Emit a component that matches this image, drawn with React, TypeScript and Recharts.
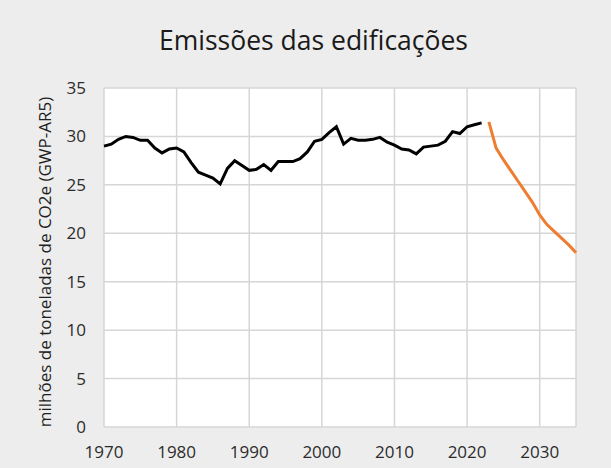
import { LineChart, Line, XAxis, YAxis, CartesianGrid } from "recharts";

const histStart = 1970;
const projStart = 2023;

// milhões de t CO2e
const historical = [
    29.0, 29.2, 29.7, 30.0, 29.9, 29.6, 29.6, 28.8, 28.3, 28.7,
    28.8, 28.4, 27.3, 26.3, 26.0, 25.7, 25.1, 26.7, 27.5, 27.0,
    26.5, 26.6, 27.1, 26.5, 27.4, 27.4, 27.4, 27.7, 28.4, 29.5,
    29.7, 30.4, 31.0, 29.2, 29.8, 29.6, 29.6, 29.7, 29.9, 29.4,
    29.1, 28.7, 28.6, 28.2, 28.9, 29.0, 29.1, 29.5, 30.5, 30.3,
    31.0, 31.2, 31.4
];
const projection = [31.5, 28.8, 27.6, 26.5, 25.4, 24.3, 23.2, 21.9, 20.9, 20.2, 19.5, 18.8, 18.0];

const xTicks = [1970, 1980, 1990, 2000, 2010, 2020, 2030];
const yTicks = [0, 5, 10, 15, 20, 25, 30, 35];

const title = "Emissões das edificações";
const yLabel = "milhões de toneladas de CO2e (GWP-AR5)";

const chartData: { year: number; hist?: number; proj?: number }[] = [];
historical.forEach((v, i) => chartData.push({ year: histStart + i, hist: v }));
projection.forEach((v, i) => chartData.push({ year: projStart + i, proj: v }));

const font = "'Open Sans', sans-serif";

export default function App() {
    return (
        <div style={{ position: "fixed", left: 0, top: 0, width: 611, height: 468, background: "#ededed", fontFamily: font }}>
            <div style={{
                position: "absolute", left: 0, width: 611, top: 22, textAlign: "center",
                paddingLeft: 16, boxSizing: "border-box",
                fontSize: 26.5, color: "#1a1a1a"
            }}>
                {title}
            </div>
            <div style={{
                position: "absolute", left: 44, top: 262,
                transform: "translate(-50%, -50%) rotate(-90deg)",
                whiteSpace: "nowrap", fontSize: 17, color: "#1f1f1f"
            }}>
                {yLabel}
            </div>
            <LineChart width={611} height={468} data={chartData}
                margin={{ top: 88, right: 35, left: 54, bottom: 11 }}>
                <CartesianGrid stroke="#d6d6d6" strokeWidth={1.5} fill="#ffffff" />
                <XAxis
                    dataKey="year"
                    type="number"
                    domain={[1970, 2035]}
                    ticks={xTicks}
                    axisLine={false}
                    tickLine={false}
                    tickSize={0}
                    tickMargin={19}
                    height={30}
                    tick={{ fill: "#2b2b2b", fontSize: 17, fontFamily: font }}
                />
                <YAxis
                    domain={[0, 35]}
                    ticks={yTicks}
                    axisLine={false}
                    tickLine={false}
                    tickSize={0}
                    tickMargin={18}
                    width={50}
                    tick={{ fill: "#2b2b2b", fontSize: 17, fontFamily: font }}
                />
                <Line dataKey="hist" stroke="#000000" strokeWidth={3} dot={false}
                    type="linear" isAnimationActive={false} connectNulls={false} />
                <Line dataKey="proj" stroke="#ed7d31" strokeWidth={3} dot={false}
                    type="linear" isAnimationActive={false} connectNulls={false} />
            </LineChart>
        </div>
    );
}
